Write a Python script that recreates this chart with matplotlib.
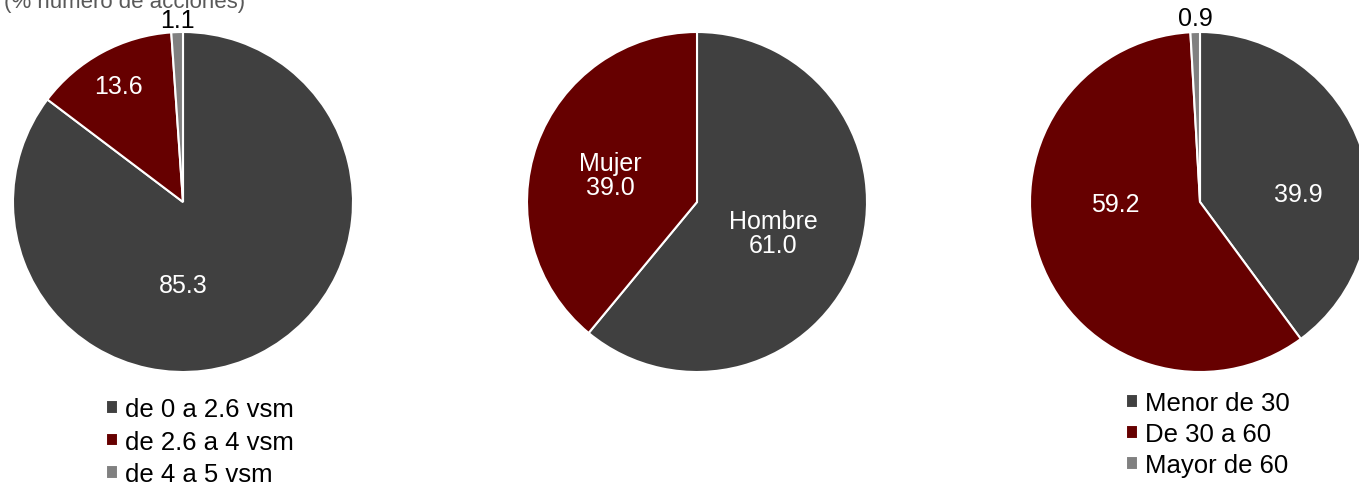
import matplotlib.pyplot as plt

plt.rcParams['font.family'] = ['Liberation Sans', 'DejaVu Sans']

# datos
ingreso_labels = ['de 0 a 2.6 vsm', 'de 2.6 a 4 vsm', 'de 4 a 5 vsm']
ingreso_vals = [85.3, 13.6, 1.1]
genero_labels = ['Hombre', 'Mujer']
genero_vals = [61.0, 39.0]
edad_labels = ['Menor de 30', 'De 30 a 60', 'Mayor de 60']
edad_vals = [39.9, 59.2, 0.9]

colores = ['#404040', '#660000', '#808080']

W, H = 1359, 485
fig = plt.figure(figsize=(W / 100, H / 100), dpi=100)

def pie_ax(cx, cy, r):
    return fig.add_axes([(cx - r) / W, (H - cy - r) / H, 2 * r / W, 2 * r / H])

def dibujar(ax, vals):
    w, _ = ax.pie(vals, colors=colores[:len(vals)], startangle=90, counterclock=False,
                  radius=1, wedgeprops=dict(edgecolor='white', linewidth=1.5))
    ax.set_xlim(-1, 1)
    ax.set_ylim(-1, 1)
    ax.set_aspect('equal')
    ax.axis('off')
    return w

fs = 18

# pie 1
ax1 = pie_ax(183, 203, 170)
w1 = dibujar(ax1, ingreso_vals)
ax1.text(0, -0.49, f'{ingreso_vals[0]:.1f}', color='white', fontsize=fs, ha='center', va='center')
ax1.text(-0.38, 0.68, f'{ingreso_vals[1]:.1f}', color='white', fontsize=fs, ha='center', va='center')
ax1.text(-0.035, 1.07, f'{ingreso_vals[2]:.1f}', color='black', fontsize=fs, ha='center', va='center', clip_on=False)

# pie 2
ax2 = pie_ax(697, 203, 170)
w2 = dibujar(ax2, genero_vals)
ax2.text(0.45, -0.18, f'{genero_labels[0]}\n{genero_vals[0]:.1f}', color='white', fontsize=fs,
         ha='center', va='center', linespacing=1.0)
ax2.text(-0.51, 0.16, f'{genero_labels[1]}\n{genero_vals[1]:.1f}', color='white', fontsize=fs,
         ha='center', va='center', linespacing=1.0)

# pie 3
ax3 = pie_ax(1200, 203, 170)
w3 = dibujar(ax3, edad_vals)
ax3.text(0.58, 0.05, f'{edad_vals[0]:.1f}', color='white', fontsize=fs, ha='center', va='center')
ax3.text(-0.5, -0.01, f'{edad_vals[1]:.1f}', color='white', fontsize=fs, ha='center', va='center')
ax3.text(-0.03, 1.08, f'{edad_vals[2]:.1f}', color='black', fontsize=fs, ha='center', va='center', clip_on=False)

fig.text(0.003, 1.0 - 8 / H, '(% número de acciones)', color='#595959', fontsize=16,
         ha='left', va='baseline')

leg_kw = dict(frameon=False, fontsize=18.5, handlelength=0.45, handleheight=0.45,
              handletextpad=0.3, labelspacing=0.34, borderpad=0, borderaxespad=0)
fig.legend(w1, ingreso_labels, loc='upper left', bbox_to_anchor=(106 / W, 1 - 398 / H), **leg_kw)
fig.legend(w3, edad_labels, loc='upper left', bbox_to_anchor=(1126 / W, 1 - 392 / H),
           **dict(leg_kw, labelspacing=0.27))

fig.savefig('out.png', dpi=100)
